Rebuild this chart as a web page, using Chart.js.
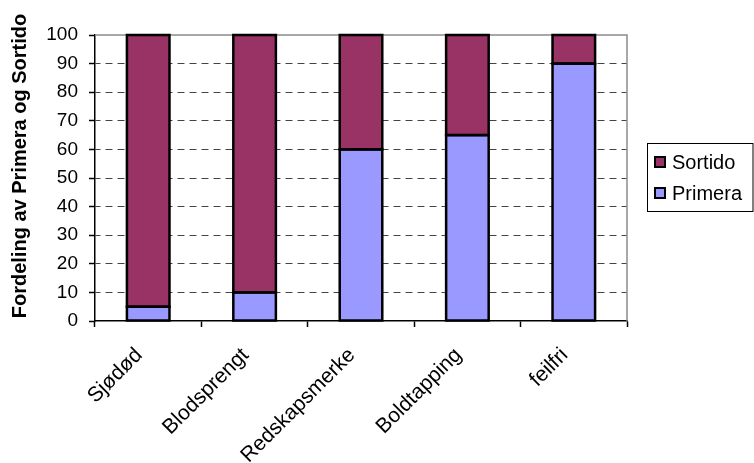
<!DOCTYPE html>
<html>
<head>
<meta charset="utf-8">
<script src="https://cdn.jsdelivr.net/npm/chart.js@4.4.0/dist/chart.umd.min.js"></script>
<style>
html,body{margin:0;padding:0;background:#fff;}
#wrap{width:754px;height:463px;position:relative;}
</style>
</head>
<body>
<div id="wrap"><canvas id="c"></canvas></div>
<script>
const categories = ["Sjødød", "Blodsprengt", "Redskapsmerke", "Boldtapping", "feilfri"];
const primera = [5, 10, 60, 65, 90];
const sortido = [95, 90, 40, 35, 10];
const yTitle = "Fordeling av Primera og Sortido";

const FONT = "'Liberation Sans', Arial, sans-serif";

const frame = {
  id: 'frame',
  beforeDatasetsDraw(chart) {
    const {ctx, chartArea: a} = chart;
    ctx.save();
    ctx.strokeStyle = '#8c8c8c';
    ctx.lineWidth = 1.5;
    ctx.beginPath();
    ctx.moveTo(a.left, a.top);
    ctx.lineTo(a.right, a.top);
    ctx.lineTo(a.right, a.bottom);
    ctx.stroke();
    ctx.restore();
  },
  afterDatasetsDraw(chart) {
    const ctx = chart.ctx;
    ctx.save();
    ctx.strokeStyle = '#000';
    ctx.lineWidth = 2.5;
    chart.data.datasets.forEach((ds, di) => {
      const meta = chart.getDatasetMeta(di);
      meta.data.forEach(el => {
        const p = el.getProps(['x', 'y', 'base', 'width'], true);
        ctx.strokeRect(p.x - p.width / 2, p.y, p.width, p.base - p.y);
      });
    });
    ctx.restore();
  },
  afterDraw(chart) {
    const ctx = chart.ctx;
    ctx.save();
    ctx.translate(20, 166);
    ctx.rotate(-Math.PI / 2);
    ctx.fillStyle = '#000';
    ctx.font = "bold 20px " + FONT;
    ctx.textAlign = 'center';
    ctx.textBaseline = 'middle';
    ctx.fillText(yTitle, 0, 0);
    ctx.restore();

    ctx.save();
    ctx.strokeStyle = '#000';
    ctx.lineWidth = 1;
    ctx.strokeRect(647.5, 143.5, 105.5, 68);
    const items = chart.data.datasets.slice().reverse();
    items.forEach((ds, i) => {
      const cy = 162 + i * 31;
      ctx.fillStyle = ds.backgroundColor;
      ctx.fillRect(655, cy - 5, 10, 10);
      ctx.lineWidth = 2;
      ctx.strokeStyle = '#000';
      ctx.strokeRect(655, cy - 5, 10, 10);
      ctx.fillStyle = '#000';
      ctx.font = "20px " + FONT;
      ctx.textBaseline = 'middle';
      ctx.textAlign = 'left';
      ctx.fillText(ds.label, 672, cy + 1);
    });
    ctx.restore();
  }
};

new Chart(document.getElementById('c'), {
  type: 'bar',
  data: {
    labels: categories,
    datasets: [
      { label: 'Primera', data: primera, backgroundColor: '#9999FF', borderWidth: 0 },
      { label: 'Sortido', data: sortido, backgroundColor: '#993366', borderWidth: 0 }
    ]
  },
  options: {
    responsive: true,
    maintainAspectRatio: false,
    animation: false,
    devicePixelRatio: 1,
    layout: { padding: { left: 0, right: 127, top: 35, bottom: 0 } },
    datasets: { bar: { categoryPercentage: 1, barPercentage: 0.4 } },
    plugins: { legend: { display: false }, tooltip: { enabled: false } },
    scales: {
      x: {
        stacked: true,
        afterFit(s) { s.height = 142; },
        grid: { offset: true, drawOnChartArea: false, drawTicks: true, tickLength: 6, tickColor: '#000', tickWidth: 1.5 },
        border: { display: true, color: '#000', width: 1.5 },
        ticks: { autoSkip: false, minRotation: 45, maxRotation: 45, color: '#000', font: { family: FONT, size: 21 }, padding: 16, labelOffset: -9 }
      },
      y: {
        stacked: true,
        min: 0, max: 100,
        afterFit(s) { s.width = 95; },
        grid: {
          color: (c) => (c.tick && (c.tick.value === 0 || c.tick.value === 100)) ? 'rgba(0,0,0,0)' : '#444',
          lineWidth: 1,
          tickColor: '#000', tickWidth: 1.5, tickLength: 6, tickBorderDash: []
        },
        border: { display: true, color: '#000', width: 1.5, dash: [7, 5], dashOffset: 2 },
        ticks: { stepSize: 10, color: '#000', font: { family: FONT, size: 19 }, padding: 11 },
        title: { display: false }
      }
    }
  },
  plugins: [frame]
});
</script>
</body>
</html>
